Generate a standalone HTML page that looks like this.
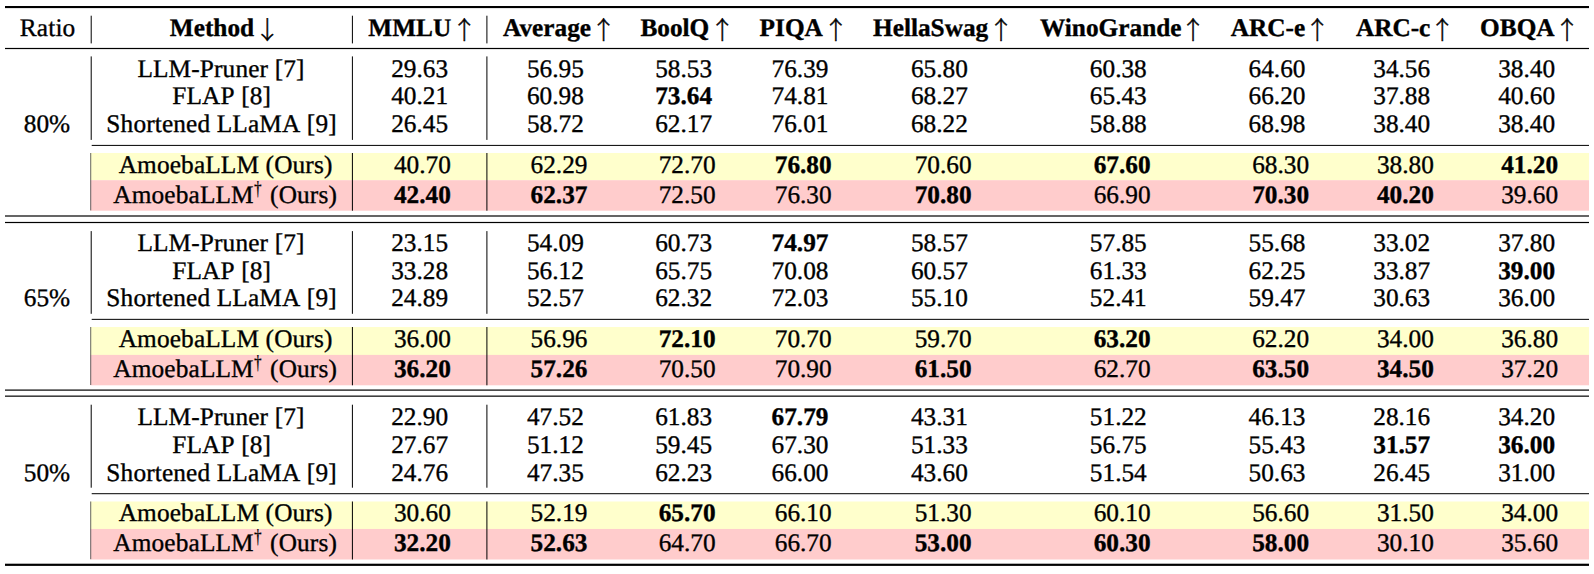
<!DOCTYPE html>
<html lang="en"><head><meta charset="utf-8"><title>Table</title>
<style>
html,body{margin:0;padding:0;background:#fff}
svg{display:block}
text{font-family:"Liberation Serif","DejaVu Serif",serif;font-size:25.3px;fill:#000;stroke:#000;stroke-width:0.35px;text-anchor:middle;text-rendering:geometricPrecision}
.b{font-weight:bold}
.ar{font-family:"Noto Serif CJK SC","Noto Serif CJK JP","Liberation Serif",serif;font-size:24.6px;stroke-width:0.5px}
.l{text-anchor:start}
.e{text-anchor:end}
.m{letter-spacing:0.15px;font-kerning:none}
.dg{font-size:20.1px;stroke-width:0.25px}
.r{stroke:#000;fill:none}
</style></head><body>
<svg width="1594" height="574" viewBox="0 0 1594 574">
<rect width="1594" height="574" fill="#fff"/>
<rect x="90.3" y="153.00" width="1498.7" height="27.30" fill="#ffffcc"/>
<rect x="90.3" y="180.20" width="1498.7" height="30.50" fill="#ffcccc"/>
<rect x="90.3" y="327.00" width="1498.7" height="28.00" fill="#ffffcc"/>
<rect x="90.3" y="354.90" width="1498.7" height="30.40" fill="#ffcccc"/>
<rect x="90.3" y="501.50" width="1498.7" height="27.55" fill="#ffffcc"/>
<rect x="90.3" y="528.95" width="1498.7" height="30.55" fill="#ffcccc"/>
<rect x="5.0" y="6.0" width="1584.0" height="2.1" fill="#000"/>
<rect x="5.0" y="47.9" width="1584.0" height="1.2" fill="#000"/>
<rect x="5.0" y="563.7" width="1584.0" height="2.2" fill="#000"/>
<rect x="91.7" y="144.90" width="1497.3" height="1.0" fill="#000"/>
<rect x="5.0" y="215.40" width="1584.0" height="1.2" fill="#000"/>
<rect x="5.0" y="221.90" width="1584.0" height="1.2" fill="#000"/>
<rect x="91.7" y="318.85" width="1497.3" height="1.0" fill="#000"/>
<rect x="5.0" y="389.50" width="1584.0" height="1.2" fill="#000"/>
<rect x="5.0" y="395.55" width="1584.0" height="1.2" fill="#000"/>
<rect x="91.7" y="493.20" width="1497.3" height="1.0" fill="#000"/>
<rect x="90.7" y="15.7" width="1.0" height="27.7" fill="#000"/>
<rect x="90.7" y="56.40" width="1.0" height="83.50" fill="#000"/>
<rect x="90.3" y="153.00" width="0.9" height="57.40" fill="#555"/>
<rect x="90.7" y="231.10" width="1.0" height="82.70" fill="#000"/>
<rect x="90.3" y="327.00" width="0.9" height="58.00" fill="#555"/>
<rect x="90.7" y="404.70" width="1.0" height="83.00" fill="#000"/>
<rect x="90.3" y="501.50" width="0.9" height="57.70" fill="#555"/>
<rect x="351.9" y="15.7" width="1.0" height="27.7" fill="#000"/>
<rect x="351.9" y="56.40" width="1.0" height="83.50" fill="#000"/>
<rect x="351.9" y="153.00" width="1.0" height="57.70" fill="#000"/>
<rect x="351.9" y="231.10" width="1.0" height="82.70" fill="#000"/>
<rect x="351.9" y="327.00" width="1.0" height="58.30" fill="#000"/>
<rect x="351.9" y="404.70" width="1.0" height="83.00" fill="#000"/>
<rect x="351.9" y="501.50" width="1.0" height="58.00" fill="#000"/>
<rect x="486.4" y="15.7" width="1.0" height="27.7" fill="#000"/>
<rect x="486.4" y="56.40" width="1.0" height="83.50" fill="#000"/>
<rect x="486.4" y="153.00" width="1.0" height="57.70" fill="#000"/>
<rect x="486.4" y="231.10" width="1.0" height="82.70" fill="#000"/>
<rect x="486.4" y="327.00" width="1.0" height="58.30" fill="#000"/>
<rect x="486.4" y="404.70" width="1.0" height="83.00" fill="#000"/>
<rect x="486.4" y="501.50" width="1.0" height="58.00" fill="#000"/>
<text class="m" x="47.6" y="36.0">Ratio</text>
<text class="b" x="212.0" y="36.0">Method</text>
<text class="ar" x="267.4" y="39.0">↓</text>
<text class="b l" x="368.3" y="36.0">MMLU</text>
<text class="ar" x="464.2" y="39.0">↑</text>
<text class="b l" x="503.0" y="36.0">Average</text>
<text class="ar" x="603.5" y="39.0">↑</text>
<text class="b l" x="640.4" y="36.0">BoolQ</text>
<text class="ar" x="722.2" y="39.0">↑</text>
<text class="b l" x="759.6" y="36.0">PIQA</text>
<text class="ar" x="835.9" y="39.0">↑</text>
<text class="b l" x="873.0" y="36.0">HellaSwag</text>
<text class="ar" x="1001.0" y="39.0">↑</text>
<text class="b l" x="1040.0" y="36.0">WinoGrande</text>
<text class="ar" x="1193.1" y="39.0">↑</text>
<text class="b l" x="1230.8" y="36.0">ARC-e</text>
<text class="ar" x="1317.3" y="39.0">↑</text>
<text class="b l" x="1355.9" y="36.0">ARC-c</text>
<text class="ar" x="1442.4" y="39.0">↑</text>
<text class="b l" x="1480.1" y="36.0">OBQA</text>
<text class="ar" x="1567.1" y="39.0">↑</text>
<text x="47.0" y="132">80%</text>
<text class="m" x="221.0" y="77.0">LLM-Pruner [7]</text>
<text x="419.6" y="77.0">29.63</text>
<text x="555.4" y="77.0">56.95</text>
<text x="683.6" y="77.0">58.53</text>
<text x="800.0" y="77.0">76.39</text>
<text x="939.4" y="77.0">65.80</text>
<text x="1118.3" y="77.0">60.38</text>
<text x="1277.0" y="77.0">64.60</text>
<text x="1401.7" y="77.0">34.56</text>
<text x="1526.6" y="77.0">38.40</text>
<text class="m" x="221.7" y="104.0">FLAP [8]</text>
<text x="419.6" y="104.0">40.21</text>
<text x="555.4" y="104.0">60.98</text>
<text class="b" x="683.6" y="104.0">73.64</text>
<text x="800.0" y="104.0">74.81</text>
<text x="939.4" y="104.0">68.27</text>
<text x="1118.3" y="104.0">65.43</text>
<text x="1277.0" y="104.0">66.20</text>
<text x="1401.7" y="104.0">37.88</text>
<text x="1526.6" y="104.0">40.60</text>
<text class="m" x="221.6" y="132.0">Shortened LLaMA [9]</text>
<text x="419.6" y="132.0">26.45</text>
<text x="555.4" y="132.0">58.72</text>
<text x="683.6" y="132.0">62.17</text>
<text x="800.0" y="132.0">76.01</text>
<text x="939.4" y="132.0">68.22</text>
<text x="1118.3" y="132.0">58.88</text>
<text x="1277.0" y="132.0">68.98</text>
<text x="1401.7" y="132.0">38.40</text>
<text x="1526.6" y="132.0">38.40</text>
<text class="m" x="225.6" y="173.0">AmoebaLLM (Ours)</text>
<text x="422.4" y="173.0">40.70</text>
<text x="559.0" y="173.0">62.29</text>
<text x="687.1" y="173.0">72.70</text>
<text class="b" x="803.2" y="173.0">76.80</text>
<text x="943.1" y="173.0">70.60</text>
<text class="b" x="1122.1" y="173.0">67.60</text>
<text x="1280.6" y="173.0">68.30</text>
<text x="1405.4" y="173.0">38.80</text>
<text class="b" x="1529.6" y="173.0">41.20</text>
<text class="m l" x="113.3" y="203">AmoebaLLM</text>
<text class="dg" transform="translate(257.7,195.25) scale(0.76,1)">†</text>
<text class="m e" x="337.0" y="203.0">(Ours)</text>
<text class="b" x="422.4" y="203.0">42.40</text>
<text class="b" x="559.0" y="203.0">62.37</text>
<text x="687.1" y="203.0">72.50</text>
<text x="803.2" y="203.0">76.30</text>
<text class="b" x="943.1" y="203.0">70.80</text>
<text x="1122.1" y="203.0">66.90</text>
<text class="b" x="1280.6" y="203.0">70.30</text>
<text class="b" x="1405.4" y="203.0">40.20</text>
<text x="1529.6" y="203.0">39.60</text>
<text x="47.0" y="306">65%</text>
<text class="m" x="221.0" y="251.0">LLM-Pruner [7]</text>
<text x="419.6" y="251.0">23.15</text>
<text x="555.4" y="251.0">54.09</text>
<text x="683.6" y="251.0">60.73</text>
<text class="b" x="800.0" y="251.0">74.97</text>
<text x="939.4" y="251.0">58.57</text>
<text x="1118.3" y="251.0">57.85</text>
<text x="1277.0" y="251.0">55.68</text>
<text x="1401.7" y="251.0">33.02</text>
<text x="1526.6" y="251.0">37.80</text>
<text class="m" x="221.7" y="279.0">FLAP [8]</text>
<text x="419.6" y="279.0">33.28</text>
<text x="555.4" y="279.0">56.12</text>
<text x="683.6" y="279.0">65.75</text>
<text x="800.0" y="279.0">70.08</text>
<text x="939.4" y="279.0">60.57</text>
<text x="1118.3" y="279.0">61.33</text>
<text x="1277.0" y="279.0">62.25</text>
<text x="1401.7" y="279.0">33.87</text>
<text class="b" x="1526.6" y="279.0">39.00</text>
<text class="m" x="221.6" y="306.0">Shortened LLaMA [9]</text>
<text x="419.6" y="306.0">24.89</text>
<text x="555.4" y="306.0">52.57</text>
<text x="683.6" y="306.0">62.32</text>
<text x="800.0" y="306.0">72.03</text>
<text x="939.4" y="306.0">55.10</text>
<text x="1118.3" y="306.0">52.41</text>
<text x="1277.0" y="306.0">59.47</text>
<text x="1401.7" y="306.0">30.63</text>
<text x="1526.6" y="306.0">36.00</text>
<text class="m" x="225.6" y="347.0">AmoebaLLM (Ours)</text>
<text x="422.4" y="347.0">36.00</text>
<text x="559.0" y="347.0">56.96</text>
<text class="b" x="687.1" y="347.0">72.10</text>
<text x="803.2" y="347.0">70.70</text>
<text x="943.1" y="347.0">59.70</text>
<text class="b" x="1122.1" y="347.0">63.20</text>
<text x="1280.6" y="347.0">62.20</text>
<text x="1405.4" y="347.0">34.00</text>
<text x="1529.6" y="347.0">36.80</text>
<text class="m l" x="113.3" y="377">AmoebaLLM</text>
<text class="dg" transform="translate(257.7,369.25) scale(0.76,1)">†</text>
<text class="m e" x="337.0" y="377.0">(Ours)</text>
<text class="b" x="422.4" y="377.0">36.20</text>
<text class="b" x="559.0" y="377.0">57.26</text>
<text x="687.1" y="377.0">70.50</text>
<text x="803.2" y="377.0">70.90</text>
<text class="b" x="943.1" y="377.0">61.50</text>
<text x="1122.1" y="377.0">62.70</text>
<text class="b" x="1280.6" y="377.0">63.50</text>
<text class="b" x="1405.4" y="377.0">34.50</text>
<text x="1529.6" y="377.0">37.20</text>
<text x="47.0" y="481">50%</text>
<text class="m" x="221.0" y="425.0">LLM-Pruner [7]</text>
<text x="419.6" y="425.0">22.90</text>
<text x="555.4" y="425.0">47.52</text>
<text x="683.6" y="425.0">61.83</text>
<text class="b" x="800.0" y="425.0">67.79</text>
<text x="939.4" y="425.0">43.31</text>
<text x="1118.3" y="425.0">51.22</text>
<text x="1277.0" y="425.0">46.13</text>
<text x="1401.7" y="425.0">28.16</text>
<text x="1526.6" y="425.0">34.20</text>
<text class="m" x="221.7" y="453.0">FLAP [8]</text>
<text x="419.6" y="453.0">27.67</text>
<text x="555.4" y="453.0">51.12</text>
<text x="683.6" y="453.0">59.45</text>
<text x="800.0" y="453.0">67.30</text>
<text x="939.4" y="453.0">51.33</text>
<text x="1118.3" y="453.0">56.75</text>
<text x="1277.0" y="453.0">55.43</text>
<text class="b" x="1401.7" y="453.0">31.57</text>
<text class="b" x="1526.6" y="453.0">36.00</text>
<text class="m" x="221.6" y="481.0">Shortened LLaMA [9]</text>
<text x="419.6" y="481.0">24.76</text>
<text x="555.4" y="481.0">47.35</text>
<text x="683.6" y="481.0">62.23</text>
<text x="800.0" y="481.0">66.00</text>
<text x="939.4" y="481.0">43.60</text>
<text x="1118.3" y="481.0">51.54</text>
<text x="1277.0" y="481.0">50.63</text>
<text x="1401.7" y="481.0">26.45</text>
<text x="1526.6" y="481.0">31.00</text>
<text class="m" x="225.6" y="521.0">AmoebaLLM (Ours)</text>
<text x="422.4" y="521.0">30.60</text>
<text x="559.0" y="521.0">52.19</text>
<text class="b" x="687.1" y="521.0">65.70</text>
<text x="803.2" y="521.0">66.10</text>
<text x="943.1" y="521.0">51.30</text>
<text x="1122.1" y="521.0">60.10</text>
<text x="1280.6" y="521.0">56.60</text>
<text x="1405.4" y="521.0">31.50</text>
<text x="1529.6" y="521.0">34.00</text>
<text class="m l" x="113.3" y="551">AmoebaLLM</text>
<text class="dg" transform="translate(257.7,543.25) scale(0.76,1)">†</text>
<text class="m e" x="337.0" y="551.0">(Ours)</text>
<text class="b" x="422.4" y="551.0">32.20</text>
<text class="b" x="559.0" y="551.0">52.63</text>
<text x="687.1" y="551.0">64.70</text>
<text x="803.2" y="551.0">66.70</text>
<text class="b" x="943.1" y="551.0">53.00</text>
<text class="b" x="1122.1" y="551.0">60.30</text>
<text class="b" x="1280.6" y="551.0">58.00</text>
<text x="1405.4" y="551.0">30.10</text>
<text x="1529.6" y="551.0">35.60</text>
</svg>
</body></html>
